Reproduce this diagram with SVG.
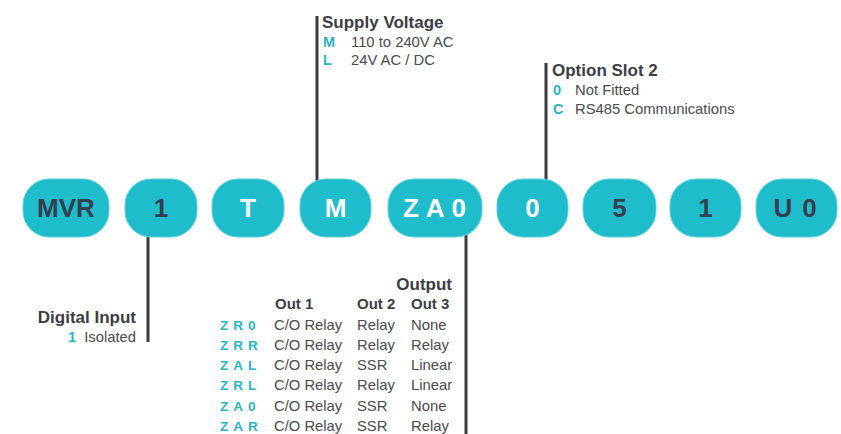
<svg xmlns="http://www.w3.org/2000/svg" width="841" height="434" viewBox="0 0 841 434">
<style>
.pill{fill:#1fbccc;stroke:#5fcfdb;stroke-width:1}
.pt{font-family:"Liberation Sans",Arial,sans-serif;font-weight:bold;font-size:26px;text-anchor:middle}
.dk{fill:#34404f}
.wh{fill:#ffffff}
.conn{stroke:#3a3a3e;stroke-width:3;fill:none}
.ttl{font-family:"Liberation Sans",Arial,sans-serif;font-weight:bold;font-size:17px;fill:#3c3d45}
.hd{font-family:"Liberation Sans",Arial,sans-serif;font-weight:bold;font-size:15px;fill:#3c3d45}
.bd{font-family:"Liberation Sans",Arial,sans-serif;font-size:14.8px;fill:#4a4a4e}
.cd{font-family:"Liberation Sans",Arial,sans-serif;font-weight:bold;font-size:14.5px;fill:#2ab4c2}
.tc{font-family:"Liberation Sans",Arial,sans-serif;font-weight:bold;font-size:13.5px;fill:#2ab4c2;letter-spacing:5px}
</style>
<rect width="841" height="434" fill="#ffffff"/>
<g id="connectors">
<line class="conn" x1="317" y1="16" x2="317" y2="181"/>
<line class="conn" x1="546" y1="63" x2="546" y2="181"/>
<line class="conn" x1="148" y1="235" x2="148" y2="342"/>
<line class="conn" x1="466" y1="235" x2="466" y2="434"/>
</g>
<g id="n-mvr"><rect class="pill" x="23" y="179" width="86" height="58" rx="26"/><text class="pt dk" x="66" y="217">MVR</text></g>
<g id="n-1a"><rect class="pill" x="125" y="179" width="72" height="58" rx="26"/><text class="pt dk" x="161" y="217">1</text></g>
<g id="n-t"><rect class="pill" x="212" y="179" width="72" height="58" rx="26"/><text class="pt wh" x="248" y="217">T</text></g>
<g id="n-m"><rect class="pill" x="300" y="179" width="71" height="58" rx="26"/><text class="pt wh" x="335.5" y="217">M</text></g>
<g id="n-za0"><rect class="pill" x="388" y="179" width="94" height="58" rx="26"/><text class="pt wh" x="438" y="217" style="letter-spacing:7px">ZA0</text></g>
<g id="n-0"><rect class="pill" x="497" y="179" width="71" height="58" rx="26"/><text class="pt wh" x="532.5" y="217">0</text></g>
<g id="n-5"><rect class="pill" x="583" y="179" width="73" height="58" rx="26"/><text class="pt dk" x="619.5" y="217">5</text></g>
<g id="n-1b"><rect class="pill" x="670" y="179" width="71" height="58" rx="26"/><text class="pt dk" x="705.5" y="217">1</text></g>
<g id="n-u0"><rect class="pill" x="756" y="179" width="81" height="58" rx="26"/><text class="pt dk" x="800" y="217" style="letter-spacing:10px">U0</text></g>
<g id="supply-voltage">
<text class="ttl" x="322" y="28">Supply Voltage</text>
<text class="cd" x="323" y="47">M</text><text class="bd" x="351" y="47">110 to 240V AC</text>
<text class="cd" x="323" y="65">L</text><text class="bd" x="351" y="65">24V AC / DC</text>
</g>
<g id="option-slot-2">
<text class="ttl" x="552" y="76">Option Slot 2</text>
<text class="cd" x="553" y="95">0</text><text class="bd" x="575" y="95">Not Fitted</text>
<text class="cd" x="553" y="114">C</text><text class="bd" x="575" y="114">RS485 Communications</text>
</g>
<g id="digital-input">
<text class="ttl" x="136" y="323" text-anchor="end">Digital Input</text>
<text class="cd" x="76" y="342" text-anchor="end">1</text><text class="bd" x="136" y="342" text-anchor="end">Isolated</text>
</g>
<g id="output">
<text class="ttl" x="452" y="290" text-anchor="end">Output</text>
<text class="hd" x="275" y="309">Out 1</text><text class="hd" x="357" y="309">Out 2</text><text class="hd" x="411" y="309">Out 3</text>
<text class="tc" x="220" y="330">ZR0</text><text class="bd" x="274" y="330">C/O Relay</text><text class="bd" x="357" y="330">Relay</text><text class="bd" x="411" y="330">None</text>
<text class="tc" x="220" y="350">ZRR</text><text class="bd" x="274" y="350">C/O Relay</text><text class="bd" x="357" y="350">Relay</text><text class="bd" x="411" y="350">Relay</text>
<text class="tc" x="220" y="370">ZAL</text><text class="bd" x="274" y="370">C/O Relay</text><text class="bd" x="357" y="370">SSR</text><text class="bd" x="411" y="370">Linear</text>
<text class="tc" x="220" y="390">ZRL</text><text class="bd" x="274" y="390">C/O Relay</text><text class="bd" x="357" y="390">Relay</text><text class="bd" x="411" y="390">Linear</text>
<text class="tc" x="220" y="411">ZA0</text><text class="bd" x="274" y="411">C/O Relay</text><text class="bd" x="357" y="411">SSR</text><text class="bd" x="411" y="411">None</text>
<text class="tc" x="220" y="431">ZAR</text><text class="bd" x="274" y="431">C/O Relay</text><text class="bd" x="357" y="431">SSR</text><text class="bd" x="411" y="431">Relay</text>
</g>
</svg>
